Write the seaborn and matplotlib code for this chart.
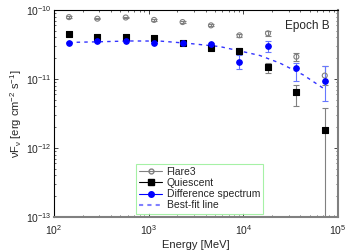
"""SED chart, Epoch B: Flare3 / Quiescent / Difference spectrum."""
import matplotlib
matplotlib.use("Agg")

import matplotlib.pyplot as plt
import numpy as np
import pandas as pd
import seaborn as sns
from matplotlib.lines import Line2D

# energy bins [MeV]
energy = [144, 287, 572, 1140, 2280, 4550, 9100, 18200, 36300, 72400]

flare3 = [7.9e-11, 7.5e-11, 7.8e-11, 7.2e-11, 6.7e-11, 6.0e-11, 4.3e-11, 4.6e-11, 2.1e-11, 1.12e-11]
flare3_lo = [7.7e-11, 7.3e-11, 7.6e-11, 7.0e-11, 6.5e-11, 5.8e-11, 4.1e-11, 4.2e-11, 1.8e-11, 8.3e-12]
flare3_hi = [8.1e-11, 7.7e-11, 8.0e-11, 7.4e-11, 6.9e-11, 6.2e-11, 4.5e-11, 4.9e-11, 2.4e-11, 1.56e-11]

quiescent = [4.5e-11, 4.1e-11, 4.1e-11, 3.9e-11, 3.3e-11, 2.8e-11, 2.57e-11, 1.5e-11, 6.45e-12, 1.83e-12]
quiescent_lo = [4.4e-11, 4.0e-11, 4.0e-11, 3.8e-11, 3.2e-11, 2.7e-11, 2.35e-11, 1.24e-11, 4.0e-12, 1e-14]
quiescent_hi = [4.6e-11, 4.2e-11, 4.2e-11, 4.0e-11, 3.4e-11, 2.9e-11, 2.8e-11, 1.73e-11, 8.3e-12, 3.73e-12]

diff = [3.38e-11, 3.5e-11, 3.6e-11, 3.38e-11, 3.38e-11, 3.24e-11, 1.79e-11, 3.06e-11, 1.43e-11, 9.4e-12]
diff_lo = [3.3e-11, 3.42e-11, 3.52e-11, 3.3e-11, 3.28e-11, 3.1e-11, 1.38e-11, 2.49e-11, 9.2e-12, 4.8e-12]
diff_hi = [3.46e-11, 3.58e-11, 3.68e-11, 3.46e-11, 3.48e-11, 3.38e-11, 2.23e-11, 3.55e-11, 1.69e-11, 1.56e-11]

# best-fit curve
fit_energy = [144, 306, 631, 1318, 2729, 5662, 9204, 14962, 24322, 42658, 69183]
fit_flux = [3.39e-11, 3.47e-11, 3.56e-11, 3.55e-11, 3.27e-11, 2.95e-11, 2.55e-11, 2.19e-11, 1.70e-11, 1.15e-11, 7.4e-12]

x_ticks = [1e2, 1e3, 1e4, 1e5]
y_ticks = [1e-13, 1e-12, 1e-11, 1e-10]

sns.set_style("ticks")
plt.rcParams["font.family"] = ["Liberation Sans", "DejaVu Sans"]
plt.rcParams["mathtext.default"] = "regular"
plt.rcParams["font.size"] = 8

fig = plt.figure(figsize=(3.6, 2.52), dpi=100)
ax = fig.add_axes([0.15, 0.14, 0.789, 0.82])


def _errs(y, lo, hi):
    y = np.asarray(y)
    return np.vstack([y - np.asarray(lo), np.asarray(hi) - y])


series = [
    ("Flare3", flare3, flare3_lo, flare3_hi, "#808080", "o", "none", 3.6),
    ("Quiescent", quiescent, quiescent_lo, quiescent_hi, "black", "s", "black", 4.2),
    ("Difference spectrum", diff, diff_lo, diff_hi, "blue", "o", "blue", 4.0),
]

for name, y, lo, hi, col, mk, fc, ms in series:
    ax.errorbar(energy, y, yerr=_errs(y, lo, hi), fmt="none",
                ecolor="#808080" if col != "blue" else "#6677ff",
                elinewidth=0.8, capsize=2, capthick=0.8, zorder=2)
    df = pd.DataFrame({"energy": energy, "flux": y})
    sns.scatterplot(data=df, x="energy", y="flux", ax=ax, marker=mk,
                    s=ms ** 2, color=col if fc != "none" else "none",
                    edgecolor=col, linewidth=0.8, zorder=3, legend=False)

fit_df = pd.DataFrame({"energy": fit_energy, "flux": fit_flux})
sns.lineplot(data=fit_df, x="energy", y="flux", ax=ax, color="blue",
             linestyle=(0, (2.5, 3)), linewidth=1.0, alpha=0.8, zorder=1)

ax.set_xscale("log")
ax.set_yscale("log")
ax.set_xticks(x_ticks)
ax.set_yticks(y_ticks)
ax.set_xlim(1e2, 1e5)
ax.set_ylim(1e-13, 1e-10)
ax.set_xlabel("Energy [MeV]", fontsize=8, labelpad=2)
ax.set_ylabel(r"$\nu$F$_\nu$ [erg cm$^{-2}$ s$^{-1}$]", fontsize=8, labelpad=1)
ax.tick_params(which="both", direction="in", top=True, right=True,
               labelsize=7.5)
ax.tick_params(axis="x", pad=5)
ax.tick_params(axis="y", pad=2)
ax.tick_params(which="major", length=3, width=0.6)
ax.tick_params(which="minor", length=1.5, width=0.5)

for side in ["left", "top"]:
    ax.spines[side].set_linewidth(0.8)
    ax.spines[side].set_color("black")
for side in ["bottom", "right"]:
    ax.spines[side].set_linewidth(1.5)
    ax.spines[side].set_color("#808080")

ax.text(0.97, 0.95, "Epoch B", transform=ax.transAxes, ha="right",
        va="top", fontsize=8.5)

handles = [
    Line2D([0], [0], color="#808080", marker="o", markerfacecolor="none",
           markersize=3.5, linewidth=0.8),
    Line2D([0], [0], color="black", marker="s", markersize=4, linewidth=0.8),
    Line2D([0], [0], color="blue", marker="o", markersize=4, linewidth=0.8),
    Line2D([0], [0], color="#8080ff", linestyle=(0, (2, 2)), linewidth=1.5),
]
labels = ["Flare3", "Quiescent", "Difference spectrum", "Best-fit line"]
leg = ax.legend(handles, labels, loc="lower left", bbox_to_anchor=(0.29, 0.015),
                fontsize=7.5, frameon=True, fancybox=False, handlelength=2.2,
                handletextpad=0.4, borderpad=0.3, labelspacing=0.12,
                borderaxespad=0)
leg.get_frame().set_edgecolor("#90ee90")
leg.get_frame().set_linewidth(0.8)

fig.savefig("out.png", dpi=100)
